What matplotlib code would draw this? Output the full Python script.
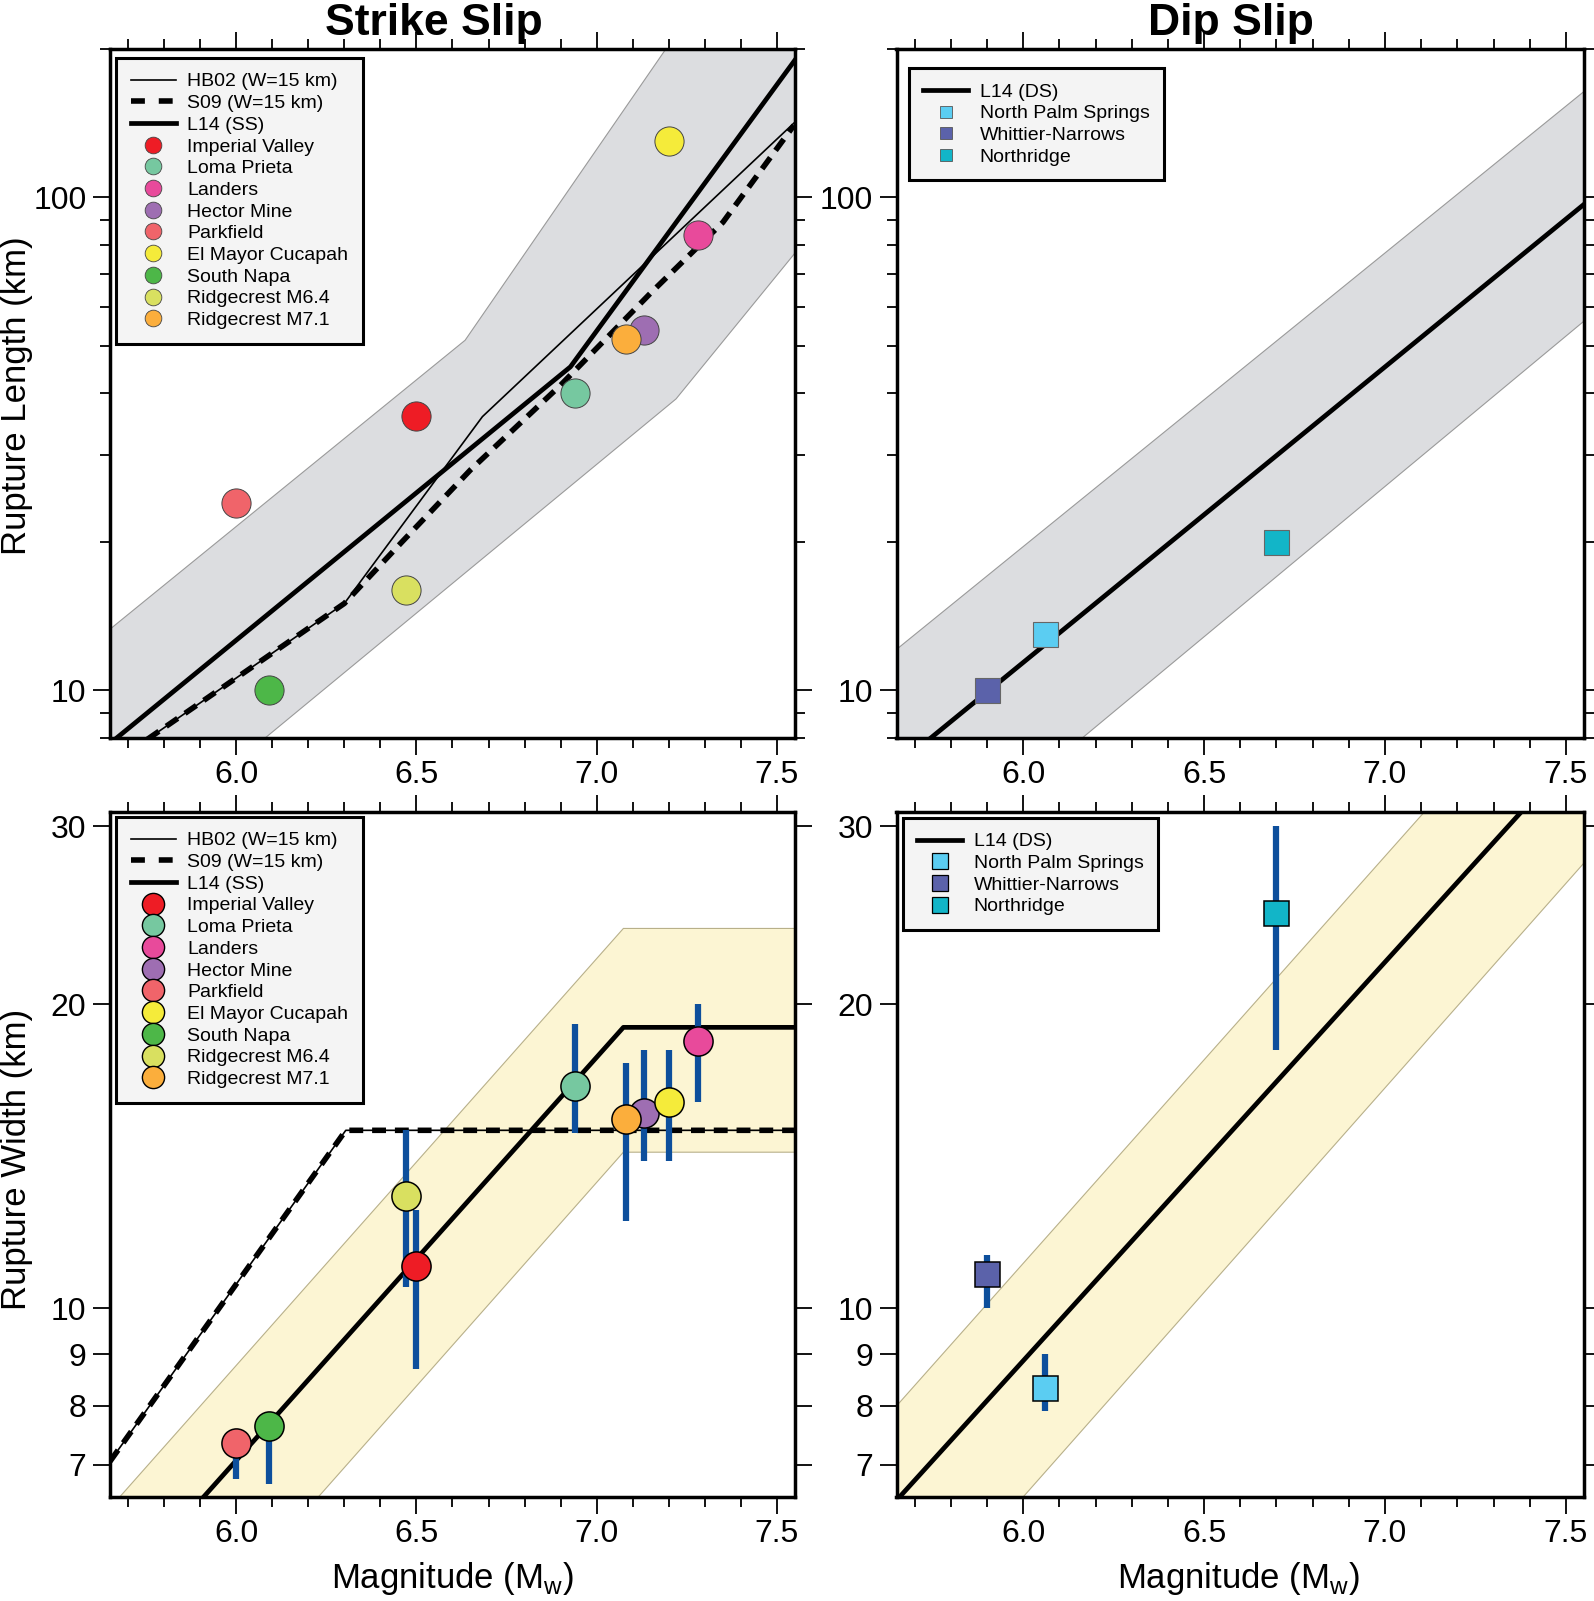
import matplotlib.pyplot as plt
from matplotlib.lines import Line2D
from matplotlib.ticker import FixedLocator, MultipleLocator, FuncFormatter, NullLocator

plt.rcParams['font.family'] = ['Liberation Sans', 'DejaVu Sans']

# --- event data ---
ss_names = ['Imperial Valley', 'Loma Prieta', 'Landers', 'Hector Mine', 'Parkfield',
            'El Mayor Cucapah', 'South Napa', 'Ridgecrest M6.4', 'Ridgecrest M7.1']
ss_colors = ['#ee1c25', '#76c8a0', '#e84a9b', '#9e6eb2', '#f0646a',
             '#f5eb3a', '#4db748', '#d9e060', '#fbae3c']
ss_mw = [6.50, 6.94, 7.28, 7.13, 6.00, 7.20, 6.09, 6.47, 7.08]
ss_len = [36.0, 40.0, 84.0, 53.7, 24.0, 130.0, 10.0, 16.0, 51.7]
ss_wid = [11.0, 16.6, 18.4, 15.6, 7.35, 16.0, 7.65, 12.9, 15.4]
ss_wid_lo = [8.7, 14.9, 16.0, 14.0, 6.78, 14.0, 6.69, 10.5, 12.2]
ss_wid_hi = [12.5, 19.1, 20.0, 18.0, 7.5, 18.0, 7.8, 15.0, 17.5]

ds_names = ['North Palm Springs', 'Whittier-Narrows', 'Northridge']
ds_colors = ['#5bcdf2', '#5b62aa', '#12b5c8']
ds_mw = [6.06, 5.90, 6.70]
ds_len = [13.0, 10.0, 20.0]
ds_wid = [8.34, 10.8, 24.6]
ds_wid_lo = [7.9, 10.0, 18.0]
ds_wid_hi = [9.0, 11.3, 30.0]

# --- scaling relations (vertices) ---
hb02_len_mw = [5.65, 6.30, 6.683, 7.547]
hb02_len = [7.05, 15.0, 35.9, 141.5]
s09_len_mw = [5.65, 6.30, 6.46, 6.65, 6.90, 7.15, 7.35, 7.547]
s09_len = [7.05, 15.0, 20.0, 28.0, 41.6, 64.0, 89.0, 140.0]
l14ss_len_mw = [5.65, 6.927, 7.55]
l14ss_len = [7.8, 45.3, 190.0]
ss_len_band_hi_mw = [5.65, 6.635, 7.55]
ss_len_band_hi = [13.3, 51.3, 480.0]
ss_len_band_lo_mw = [5.65, 7.22, 7.55]
ss_len_band_lo = [4.4, 39.0, 77.1]

w_sq_mw = [5.65, 6.304, 7.55]          # HB02 and S09 widths coincide
w_sq = [7.05, 15.0, 15.0]
l14ss_wid_mw = [5.65, 7.074, 7.55]
l14ss_wid = [5.12, 18.97, 18.97]
ss_wid_band_mw = [5.65, 7.074, 7.55]
ss_wid_band_hi = [6.34, 23.77, 23.77]
ss_wid_band_lo = [3.80, 14.27, 14.27]

ds_mw_range = [5.65, 7.55]
l14ds_len = [7.02, 96.8]
ds_len_band_hi = [12.1, 164.0]
ds_len_band_lo = [3.89, 56.1]
l14ds_wid = [6.45, 36.3]
ds_wid_band_hi = [8.0, 46.7]
ds_wid_band_lo = [4.69, 27.6]

GRAY = '#dcdde0'
YELLOW = '#fcf5d3'
BAR = '#0d4f9c'

W, H = 1594, 1601
fig = plt.figure(figsize=(W / 100, H / 100), dpi=100)


def px_axes(l, t, r, b):
    return fig.add_axes([l / W, 1 - b / H, (r - l) / W, (b - t) / H])


def style(ax, ylim, yticks, yminor):
    ax.set_yscale('log')
    ax.set_xlim(5.65, 7.55)
    ax.set_ylim(*ylim)
    ax.xaxis.set_major_locator(FixedLocator([6.0, 6.5, 7.0, 7.5]))
    ax.xaxis.set_minor_locator(MultipleLocator(0.1))
    ax.xaxis.set_major_formatter(FuncFormatter(lambda v, p: f'{v:.1f}'))
    ax.yaxis.set_major_locator(FixedLocator(yticks))
    ax.yaxis.set_major_formatter(FuncFormatter(lambda v, p: f'{v:g}'))
    if yminor:
        ax.yaxis.set_minor_locator(FixedLocator(yminor))
    else:
        ax.yaxis.set_minor_locator(NullLocator())
    ax.tick_params(which='both', direction='out', top=True, right=True,
                   labelsize=23, width=1.3, colors='black')
    ax.tick_params(which='major', length=12, pad=5)
    ax.tick_params(axis='x', which='major', pad=4)
    ax.tick_params(which='minor', length=7.5)
    for s in ax.spines.values():
        s.set_linewidth(2.5)
        s.set_zorder(10)


def band(ax, xs_hi, hi, xs_lo, lo, color, edge):
    ax.fill(list(xs_hi) + list(xs_lo)[::-1], list(hi) + list(lo)[::-1],
            facecolor=color, edgecolor=edge, linewidth=0.8, zorder=1)


def legend(ax, handles, anchor):
    leg = ax.legend(handles=handles, loc='upper left', bbox_to_anchor=anchor,
                    borderaxespad=0, fontsize=14, handlelength=2.3,
                    handletextpad=0.6, borderpad=0.75, labelspacing=0.21,
                    fancybox=False, framealpha=1)
    leg.get_frame().set_facecolor('#f4f4f4')
    leg.get_frame().set_edgecolor('black')
    leg.get_frame().set_linewidth(2.2)
    leg.set_zorder(20)


def line_handles(l14_label, with_ss):
    hs = []
    if with_ss:
        hs.append(Line2D([], [], color='black', lw=1.2, label='HB02 (W=15 km)'))
        hs.append(Line2D([], [], color='black', lw=4, dashes=(2.5, 2.5), label='S09 (W=15 km)'))
    hs.append(Line2D([], [], color='black', lw=3.4, label=l14_label))
    return hs


ax_tl = px_axes(110, 49, 795, 738)
ax_tr = px_axes(896.5, 49, 1584, 738)
ax_bl = px_axes(110, 812, 795, 1497)
ax_br = px_axes(896.5, 812, 1584, 1497)

len_minor = [8, 9, 20, 30, 40, 50, 60, 70, 80, 90, 200]

# --- strike slip length ---
ax = ax_tl
band(ax, ss_len_band_hi_mw, ss_len_band_hi, ss_len_band_lo_mw, ss_len_band_lo, GRAY, '#9a9a9a')
ax.plot(s09_len_mw, s09_len, color='black', lw=4, dashes=(2.5, 1.6), zorder=3)
ax.plot(hb02_len_mw, hb02_len, color='black', lw=1.2, zorder=4)
ax.plot(l14ss_len_mw, l14ss_len, color='black', lw=3.4, zorder=4)
for m, v, c in zip(ss_mw, ss_len, ss_colors):
    ax.plot(m, v, 'o', ms=21, mfc=c, mec='#444444', mew=0.7, zorder=6)
style(ax, (8, 200), [10, 100], len_minor)
hs = line_handles('L14 (SS)', True)
hs += [Line2D([], [], marker='o', ls='none', ms=12, mfc=c, mec='#444444', mew=0.6, label=n)
       for n, c in zip(ss_names, ss_colors)]
legend(ax, hs, (0.0093, 0.9866))

# --- dip slip length ---
ax = ax_tr
band(ax, ds_mw_range, ds_len_band_hi, ds_mw_range, ds_len_band_lo, GRAY, '#9a9a9a')
ax.plot(ds_mw_range, l14ds_len, color='black', lw=3.4, zorder=4)
for m, v, c in zip(ds_mw, ds_len, ds_colors):
    ax.plot(m, v, 's', ms=18, mfc=c, mec='#666666', mew=0.8, zorder=6)
style(ax, (8, 200), [10, 100], len_minor)
hs = line_handles('L14 (DS)', False)
hs += [Line2D([], [], marker='s', ls='none', ms=8, mfc=c, mec='#555555', mew=0.6, label=n)
       for n, c in zip(ds_names, ds_colors)]
legend(ax, hs, (0.0179, 0.9718))

# --- strike slip width ---
ax = ax_bl
band(ax, ss_wid_band_mw, ss_wid_band_hi, ss_wid_band_mw, ss_wid_band_lo, YELLOW, '#b8b08a')
ax.plot(w_sq_mw, w_sq, color='black', lw=4, dashes=(2.5, 1.6), zorder=3)
ax.plot(w_sq_mw, w_sq, color='black', lw=1.2, zorder=4)
ax.plot(l14ss_wid_mw, l14ss_wid, color='black', lw=3.4, zorder=4)
ax.vlines(ss_mw, ss_wid_lo, ss_wid_hi, color=BAR, lw=4.5, zorder=5)
for m, v, c in zip(ss_mw, ss_wid, ss_colors):
    ax.plot(m, v, 'o', ms=21, mfc=c, mec='black', mew=1.1, zorder=6)
style(ax, (6.5, 31), [7, 8, 9, 10, 20, 30], None)
hs = line_handles('L14 (SS)', True)
hs += [Line2D([], [], marker='o', ls='none', ms=16, mfc=c, mec='black', mew=1.0, label=n)
       for n, c in zip(ss_names, ss_colors)]
legend(ax, hs, (0.0093, 0.9924))

# --- dip slip width ---
ax = ax_br
band(ax, ds_mw_range, ds_wid_band_hi, ds_mw_range, ds_wid_band_lo, YELLOW, '#b8b08a')
ax.plot(ds_mw_range, l14ds_wid, color='black', lw=3.4, zorder=4)
ax.vlines(ds_mw, ds_wid_lo, ds_wid_hi, color=BAR, lw=4.5, zorder=5)
for m, v, c in zip(ds_mw, ds_wid, ds_colors):
    ax.plot(m, v, 's', ms=18, mfc=c, mec='black', mew=1.1, zorder=6)
style(ax, (6.5, 31), [7, 8, 9, 10, 20, 30], None)
hs = line_handles('L14 (DS)', False)
hs += [Line2D([], [], marker='s', ls='none', ms=12, mfc=c, mec='black', mew=0.9, label=n)
       for n, c in zip(ds_names, ds_colors)]
legend(ax, hs, (0.0089, 0.991))

# --- titles and axis labels ---
fig.text(434 / W, 1 - 35 / H, 'Strike Slip', ha='center', va='baseline',
         fontsize=32, fontweight='bold')
fig.text(1231 / W, 1 - 35 / H, 'Dip Slip', ha='center', va='baseline',
         fontsize=32, fontweight='bold')
fig.text(17 / W, 1 - 396 / H, 'Rupture Length (km)', rotation=90,
         ha='center', va='center', fontsize=25)
fig.text(17 / W, 1 - 1159 / H, 'Rupture Width (km)', rotation=90,
         ha='center', va='center', fontsize=25)
xlab = 'Magnitude (M$_{\\mathregular{w}}$)'
fig.text(452 / W, 1 - 1578 / H, xlab, ha='center', va='center', fontsize=25)
fig.text(1238 / W, 1 - 1578 / H, xlab, ha='center', va='center', fontsize=25)

fig.savefig('out.png', dpi=100)
